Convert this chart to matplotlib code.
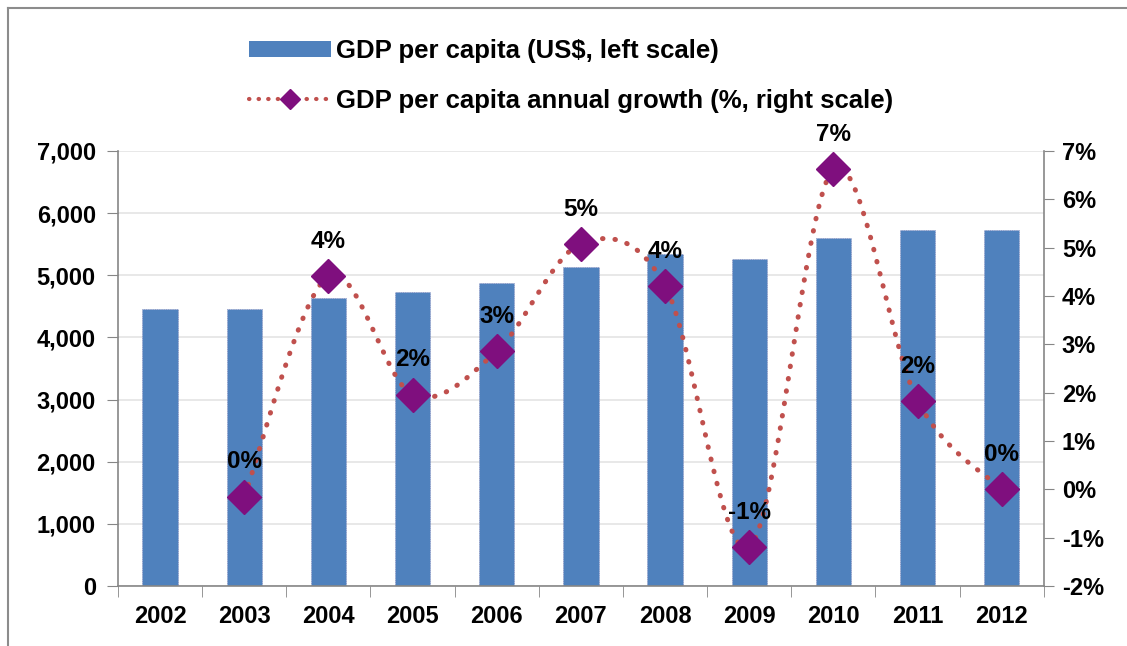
import numpy as np
import matplotlib
matplotlib.use("Agg")
import matplotlib.pyplot as plt
from matplotlib.lines import Line2D
from matplotlib.patches import Patch

plt.rcParams['font.family'] = ['Liberation Sans', 'DejaVu Sans']
plt.rcParams['font.weight'] = 'bold'

years = ['2002', '2003', '2004', '2005', '2006', '2007', '2008', '2009', '2010', '2011', '2012']
gdp_per_capita = [4450, 4450, 4640, 4735, 4870, 5130, 5335, 5265, 5600, 5730, 5730]
growth_pct = [-0.15, 4.41, 1.96, 2.86, 5.08, 4.21, -1.19, 6.62, 1.83, 0.0]
growth_years = years[1:]
left_ticks = [0, 1000, 2000, 3000, 4000, 5000, 6000, 7000]
right_ticks = [-2, -1, 0, 1, 2, 3, 4, 5, 6, 7]

bar_color = '#4F81BD'
line_color = '#C0504D'
marker_color = '#7F0F7E'
axis_grey = '#868686'


def smooth_curve(xs, ys, n=40):
    # bezier smoothing like spreadsheet "smoothed line"
    pts = np.column_stack([xs, ys]).astype(float)
    P = np.vstack([pts[0], pts, pts[-1]])
    out = []
    t = np.linspace(0, 1, n)[:, None]
    for i in range(1, len(P) - 2):
        p0, p1, p2, p3 = P[i - 1], P[i], P[i + 1], P[i + 2]
        c1 = p1 + (p2 - p0) / 6
        c2 = p2 - (p3 - p1) / 6
        seg = (1 - t) ** 3 * p1 + 3 * (1 - t) ** 2 * t * c1 + 3 * (1 - t) * t ** 2 * c2 + t ** 3 * p2
        out.append(seg)
    return np.vstack(out)


fig = plt.figure(figsize=(11.27, 6.46), dpi=100)
ax = fig.add_axes([0.1047, 0.0929, 0.8215, 0.6734])
x = np.arange(len(years))

ax.bar(x, gdp_per_capita, width=0.42, color=bar_color, edgecolor='#8E8EC0',
       linewidth=0.6, linestyle=':', zorder=2)
ax.set_ylim(0, 7000)
ax.set_xlim(-0.5, len(years) - 0.5)
ax.set_yticks(left_ticks)
ax.set_yticklabels([f'{v:,}' for v in left_ticks])
ax.set_xticks(x)
ax.set_xticklabels(years)
ax.set_xticks(np.arange(-0.5, len(years), 1), minor=True)
ax.tick_params(axis='x', which='major', length=0, pad=14, labelsize=17)
ax.tick_params(axis='x', which='minor', length=8, color=axis_grey, direction='out')
ax.tick_params(axis='y', length=8, color=axis_grey, pad=8, labelsize=17)
ax.grid(axis='y', color='#E4E4E4', linewidth=1.2, zorder=0)
ax.set_axisbelow(True)
for s in ['top', 'right']:
    ax.spines[s].set_visible(False)
for s in ['left', 'bottom']:
    ax.spines[s].set_color(axis_grey)
    ax.spines[s].set_linewidth(1.2)

ax2 = ax.twinx()
ax2.set_ylim(-2, 7)
ax2.set_yticks(right_ticks)
ax2.set_yticklabels([f'{v}%' for v in right_ticks])
ax2.tick_params(axis='y', length=7, color=axis_grey, pad=6, labelsize=17)
for s in ['top', 'left', 'bottom']:
    ax2.spines[s].set_visible(False)
ax2.spines['right'].set_color(axis_grey)
ax2.spines['right'].set_linewidth(1.2)

gx = x[1:]
curve = smooth_curve(gx, growth_pct)
ax2.plot(curve[:, 0], curve[:, 1], color=line_color, linewidth=3.6,
         linestyle=(0, (0.1, 2.4)), dash_capstyle='round', zorder=3)
ax2.plot(gx, growth_pct, linestyle='none', marker='D', markersize=17,
         color=marker_color, zorder=4)
for xi, v in zip(gx, growth_pct):
    ax2.annotate(f'{round(v):.0f}%', (xi, v), xytext=(0, 25), textcoords='offset points',
                 ha='center', va='center', fontsize=17.5, fontweight='bold')

handles = [Patch(facecolor=bar_color, edgecolor='none'),
           Line2D([0], [0], color=line_color, linewidth=3, linestyle=(0, (0.1, 2.2)),
                  dash_capstyle='round', marker='D', markersize=10,
                  markerfacecolor=marker_color, markeredgecolor=marker_color)]
labels = ['GDP per capita (US$, left scale)', 'GDP per capita annual growth (%, right scale)']
fig.legend(handles, labels, loc='upper left', bbox_to_anchor=(0.2, 0.975), frameon=False,
           fontsize=18.5, handlelength=3.2, handleheight=0.6, handletextpad=0.2,
           labelspacing=1.0, numpoints=1)

# chart area border (top and left edges visible)
fig.add_artist(Line2D([8 / 1127, 1], [1 - 8 / 646, 1 - 8 / 646], color='#8C8C8C', linewidth=1.5))
fig.add_artist(Line2D([8 / 1127, 8 / 1127], [0, 1 - 8 / 646], color='#8C8C8C', linewidth=1.5))

fig.savefig('out.png', dpi=100)
